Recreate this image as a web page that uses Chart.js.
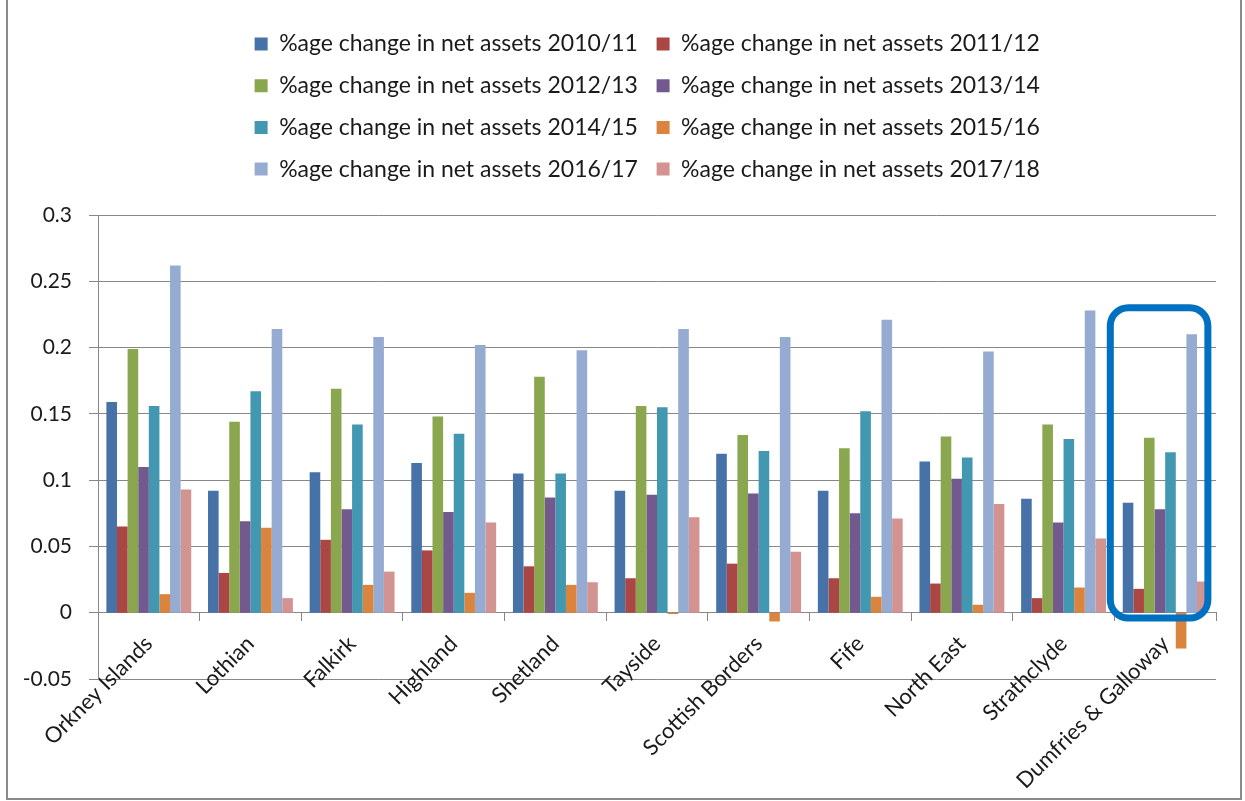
<!DOCTYPE html>
<html>
<head>
<meta charset="utf-8">
<script src="https://cdn.jsdelivr.net/npm/chart.js@4.4.1/dist/chart.umd.min.js"></script>
<style>
  html, body { margin: 0; padding: 0; background: #fff; overflow: hidden; }
  #frame {
    position: absolute; left: 6px; top: -2px;
    width: 1232px; height: 798px;
    border: 2px solid #8a8a8a;
  }
  #wrap { position: absolute; left: 0; top: 0; width: 1217px; height: 798px; }
</style>
</head>
<body>
<div id="frame">
  <div id="wrap"><canvas id="myChart"></canvas></div>
</div>
<script>
// categories (council areas)
const regions = [
  'Orkney Islands', 'Lothian', 'Falkirk', 'Highland', 'Shetland', 'Tayside',
  'Scottish Borders', 'Fife', 'North East', 'Strathclyde', 'Dumfries & Galloway'
];

// series, one per year
const years = ['2010/11', '2011/12', '2012/13', '2013/14', '2014/15', '2015/16', '2016/17', '2017/18'];

const chg1011 = [0.159, 0.092, 0.106, 0.113, 0.105, 0.092, 0.120, 0.092, 0.114, 0.086, 0.083];
const chg1112 = [0.065, 0.030, 0.055, 0.047, 0.035, 0.026, 0.037, 0.026, 0.022, 0.011, 0.018];
const chg1213 = [0.199, 0.144, 0.169, 0.148, 0.178, 0.156, 0.134, 0.124, 0.133, 0.142, 0.132];
const chg1314 = [0.110, 0.069, 0.078, 0.076, 0.087, 0.089, 0.090, 0.075, 0.101, 0.068, 0.078];
const chg1415 = [0.156, 0.167, 0.142, 0.135, 0.105, 0.155, 0.122, 0.152, 0.117, 0.131, 0.121];
const chg1516 = [0.014, 0.064, 0.021, 0.015, 0.021, -0.001, -0.0066, 0.012, 0.006, 0.019, -0.027];
const chg1617 = [0.262, 0.214, 0.208, 0.202, 0.198, 0.214, 0.208, 0.221, 0.197, 0.228, 0.210];
const chg1718 = [0.093, 0.011, 0.031, 0.068, 0.023, 0.072, 0.046, 0.071, 0.082, 0.056, 0.0235];

const seriesValues = [chg1011, chg1112, chg1213, chg1314, chg1415, chg1516, chg1617, chg1718];
const seriesColors = ['#4672a7', '#aa4644', '#8aa64f', '#725a8e', '#4298b0', '#db843d', '#95abd1', '#d39391'];

// y axis
const yMin = -0.05;
const yMax = 0.3;
const yStep = 0.05;

// highlighted region (blue rounded frame)
const highlightRegion = 'Dumfries & Galloway';
const highlightTop = 0.23;
const highlightBottom = -0.004;

const gridGray = '#878787';
const fontFamily = 'Lato, "Open Sans", sans-serif';

const datasets = years.map((yr, i) => ({
  label: '%age change in net assets ' + yr,
  data: seriesValues[i],
  backgroundColor: seriesColors[i],
  borderWidth: 0,
  categoryPercentage: 0.835,
  barPercentage: 1.0
}));

const highlightPlugin = {
  id: 'highlight',
  afterLayout(chart) {
    // let the y tick labels use the space to the left of the axis box
    chart.scales.y.left = 0;
  },
  afterDraw(chart) {
    const x = chart.scales.x;
    const y = chart.scales.y;
    const idx = regions.indexOf(highlightRegion);
    const catW = x.getPixelForValue(1) - x.getPixelForValue(0);
    const cx = x.getPixelForValue(idx);
    const left = cx - catW * 0.54;
    const right = cx + catW * 0.42;
    const top = y.getPixelForValue(highlightTop);
    const bottom = y.getPixelForValue(highlightBottom);
    const ctx = chart.ctx;
    ctx.save();
    ctx.strokeStyle = '#0070c0';
    ctx.lineWidth = 7;
    ctx.beginPath();
    ctx.roundRect(left, top, right - left, bottom - top, 18);
    ctx.stroke();
    ctx.restore();
  }
};

new Chart(document.getElementById('myChart').getContext('2d'), {
  type: 'bar',
  data: { labels: regions, datasets },
  plugins: [highlightPlugin],
  options: {
    responsive: true,
    maintainAspectRatio: false,
    animation: false,
    layout: { padding: { left: 70.5, right: 9, top: 13.8, bottom: 119 } },
    plugins: {
      legend: {
        position: 'top',
        labels: {
          boxWidth: 13,
          boxHeight: 13,
          padding: 18.7,
          color: '#1a1a1a',
          font: { family: fontFamily, size: 23 }
        }
      },
      // empty title below the legend, used as a spacer
      title: {
        display: true,
        text: '',
        weight: 500,
        font: { size: 1, lineHeight: 1 },
        padding: { top: 23.4, bottom: 0 }
      },
      tooltip: { enabled: false }
    },
    scales: {
      x: {
        position: { y: 0 },
        grid: { drawOnChartArea: false, color: gridGray, tickLength: 8, lineWidth: 1 },
        border: { color: gridGray, width: 1 },
        ticks: {
          minRotation: 45,
          maxRotation: 45,
          padding: 10,
          color: '#1a1a1a',
          font: { family: fontFamily, size: 22 }
        }
      },
      y: {
        min: yMin,
        max: yMax,
        afterFit(scale) { scale.width = 19.5; },
        grid: { color: gridGray, tickLength: 9, lineWidth: 1 },
        border: { color: gridGray, width: 1 },
        ticks: {
          stepSize: yStep,
          padding: 17,
          color: '#1a1a1a',
          font: { family: fontFamily, size: 21 },
          callback: (v) => String(+v.toFixed(2))
        }
      }
    }
  }
});
</script>
</body>
</html>
